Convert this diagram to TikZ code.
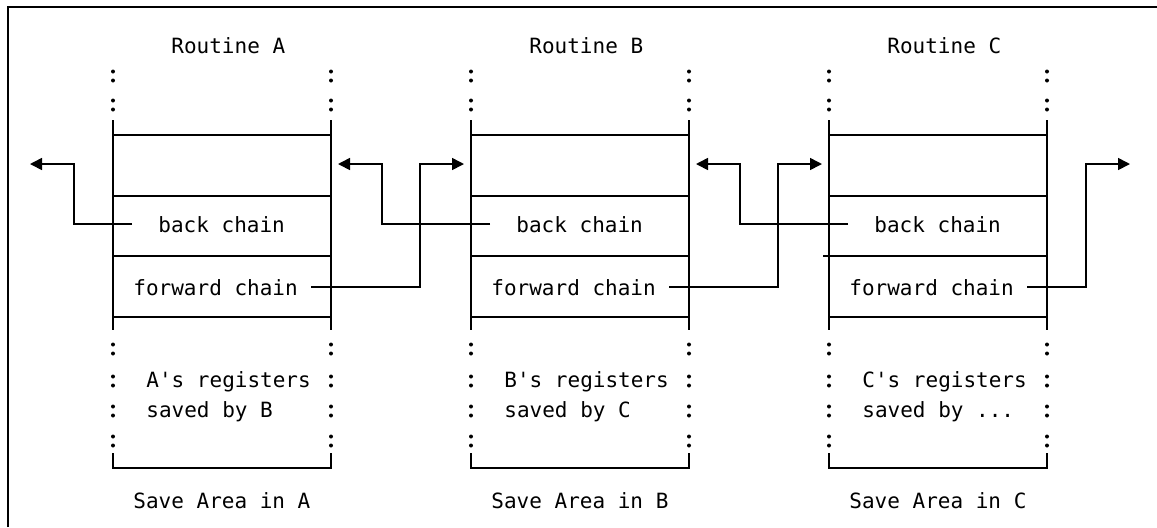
\documentclass[tikz,border=0pt]{standalone}
\usepackage{fontspec}
\setmonofont{DejaVu Sans Mono}
\usetikzlibrary{arrows.meta}
\tikzset{
  link/.style={-{Triangle[length=6pt,width=6pt]},line width=.8pt},
  wall/.style={line width=.8pt},
  txt/.style={inner sep=0pt,anchor=base west,font=\ttfamily\fontsize{10.5}{12}\selectfont}
}
\newcommand{\savearea}[4]{%
  \draw[wall] (#2,120) -- (#2,330) (#2+218,120) -- (#2+218,330);
  \foreach \yy in {135,196,256,317}
    \draw[wall] (#2,\yy) -- (#2+218,\yy);
  \draw[wall] (#2,453) -- (#2,468) -- (#2+218,468) -- (#2+218,453);
  \foreach \yy in {76,105,349,381,411,441}
    \foreach \xx in {#2,#2+218}
      \fill (\xx,\yy-4.5) circle[radius=1pt] (\xx,\yy+4.5) circle[radius=1pt];
  \node[txt] (rt#1) at (#2+58,53) {Routine #3};
  \node[txt] (bc#1) at (#2+45,232) {back chain};
  \node[txt] (fc#1) at (#2+20,295) {forward chain};
  \node[txt] (rg#1) at (#2+33,387) {#3's registers};
  \node[txt] (sv#1) at (#2+33,417) {saved by #4};
  \node[txt] (sa#1) at (#2+20,508) {Save Area in #3};
  \coordinate (in#1) at (#2-7,164);
  \coordinate (out#1) at (#2+225,164);
}

\begin{document}
\begin{tikzpicture}[x=.5pt,y=-.5pt]
  \useasboundingbox (0,0) rectangle (1157,527);
  \draw[line width=1.2pt] (8,527) -- (8,7) -- (1157,7);

  % The three save areas.
  \savearea{A}{113}{A}{B}
  \savearea{B}{471}{B}{C}
  \savearea{C}{829}{C}{...}
  \draw[wall] (823,256) -- (829,256);

  % Chain pointers between the save areas.
  \coordinate (farL) at (30,164);
  \coordinate (farR) at (1130,164);
  \draw[link] ([xshift=-13pt]bcA.west) -| ([xshift=22pt]farL) -- (farL);
  \draw[link] ([xshift=-13pt]bcB.west) -| ([xshift=22pt]outA) -- (outA);
  \draw[link] ([xshift=-13pt]bcC.west) -| ([xshift=22pt]outB) -- (outB);
  \draw[link] ([xshift=6.5pt]fcA.east) -| ([xshift=-22pt]inB) -- (inB);
  \draw[link] ([xshift=6.5pt]fcB.east) -| ([xshift=-22pt]inC) -- (inC);
  \draw[link] ([xshift=6.5pt]fcC.east) -| ([xshift=-22pt]farR) -- (farR);
\end{tikzpicture}
\end{document}
